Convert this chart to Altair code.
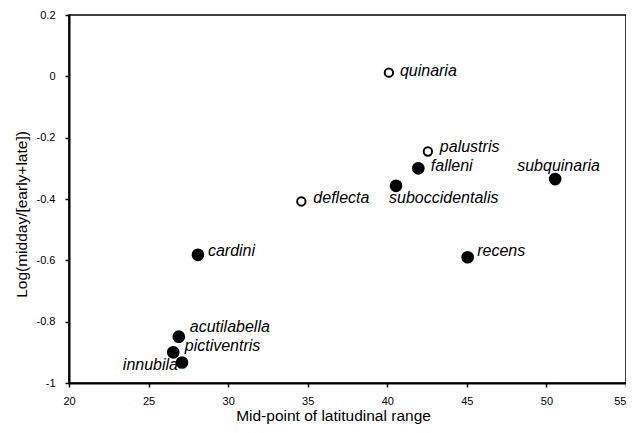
import altair as alt
import pandas as pd

species = ["quinaria", "palustris", "falleni", "suboccidentalis", "subquinaria",
           "deflecta", "cardini", "recens", "acutilabella", "pictiventris", "innubila"]
lat_mid = [40.1, 42.55, 41.95, 40.55, 50.55, 34.6, 28.1, 45.05, 26.9, 26.55, 27.1]
log_ratio = [0.012, -0.245, -0.30, -0.357, -0.335, -0.408, -0.582, -0.59, -0.849, -0.90, -0.933]
filled = [False, False, True, True, True, False, True, True, True, True, True]

x_ticks = [20, 25, 30, 35, 40, 45, 50, 55]
y_ticks = [-1, -0.8, -0.6, -0.4, -0.2, 0, 0.2]

df = pd.DataFrame({"species": species, "lat": lat_mid, "ratio": log_ratio, "filled": filled})

# label placement (align, dx, dy) relative to each point
label_style = {
    "quinaria": ("left", 11, 3.5),
    "palustris": ("left", 12, 1),
    "falleni": ("left", 12.5, 2.7),
    "suboccidentalis": ("left", -7, 17),
    "subquinaria": ("left", -38, -7.6),
    "deflecta": ("left", 12, 1.6),
    "cardini": ("left", 10, 1),
    "recens": ("left", 9.5, -1.3),
    "acutilabella": ("left", 11, -4.4),
    "pictiventris": ("left", 11.5, -1.3),
    "innubila": ("right", -4, 8),
}

FONT = "Liberation Sans"

x_enc = alt.X("lat:Q", scale=alt.Scale(domain=[20, 55], nice=False, zero=False),
              axis=alt.Axis(values=x_ticks, title="Mid-point of latitudinal range",
                            labelPadding=8, labelFlush=False,
                            labelAlign=alt.ExprRef(expr="datum.value == 55 ? 'right' : 'center'"),
                            titleX=264, titleY=32, titleBaseline="middle"))
y_enc = alt.Y("ratio:Q", scale=alt.Scale(domain=[-1, 0.2], nice=False, zero=False),
              axis=alt.Axis(values=y_ticks, title="Log(midday/[early+late])",
                            labelExpr="'' + datum.value", labelPadding=10,
                            titleX=-48, titleY=199, titleBaseline="middle"))

base = alt.Chart(df).encode(x=x_enc, y=y_enc)

filled_pts = base.transform_filter("datum.filled").mark_point(
    shape="circle", filled=True, size=160, color="black", opacity=1)
open_pts = base.transform_filter("!datum.filled").mark_point(
    shape="circle", filled=False, size=70, color="black", strokeWidth=2, opacity=1)

layers = [filled_pts, open_pts]
for name, (align, dx, dy) in label_style.items():
    layers.append(
        base.transform_filter(alt.datum.species == name).mark_text(
            align=align, baseline="alphabetic", dx=dx, dy=dy, fontSize=16,
            fontStyle="italic", font=FONT, color="black"
        ).encode(text="species:N")
    )

chart = alt.layer(*layers).properties(
    width=557, height=368,
    autosize=alt.AutoSizeParams(type="none"),
    padding={"left": 61, "top": 7, "right": 0, "bottom": 42},
    background="white",
).configure_view(
    stroke="black", strokeWidth=1.5
).configure_axis(
    grid=False, domainColor="black", domainWidth=2, tickColor="black", tickWidth=1.5,
    tickSize=4, labelFontSize=11, labelColor="black", labelFont=FONT,
    titleFont=FONT, titleFontSize=15.5, titleFontWeight="normal", titleColor="black",
)

chart.save("out.html", embed_options={"renderer": "svg", "actions": False})
